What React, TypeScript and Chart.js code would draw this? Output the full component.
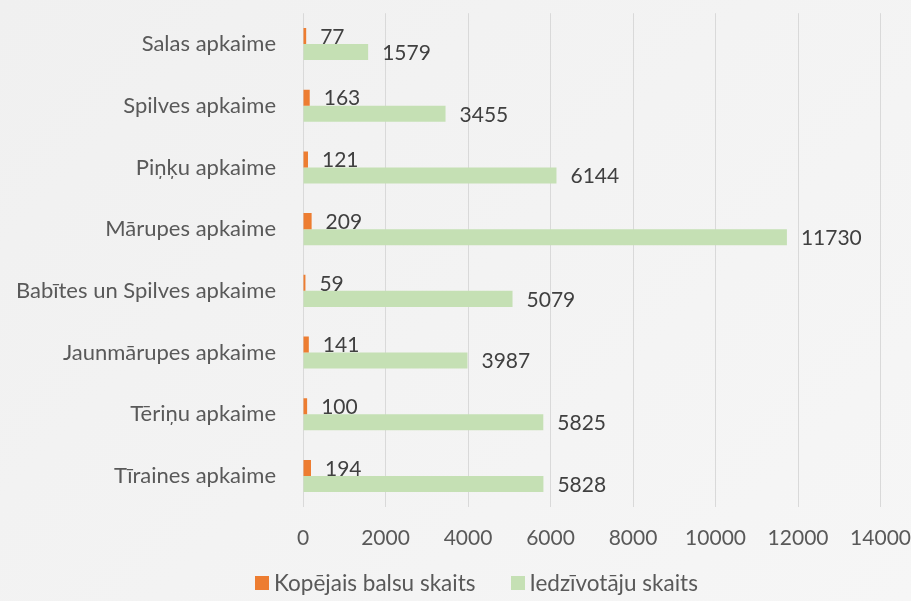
import React, { useEffect, useRef } from "react";
import { Chart, registerables } from "chart.js";
Chart.register(...registerables);

const categories = [
  "Salas apkaime",
  "Spilves apkaime",
  "Piņķu apkaime",
  "Mārupes apkaime",
  "Babītes un Spilves apkaime",
  "Jaunmārupes apkaime",
  "Tēriņu apkaime",
  "Tīraines apkaime",
];
const votes = [77, 163, 121, 209, 59, 141, 100, 194];
const residents = [1579, 3455, 6144, 11730, 5079, 3987, 5825, 5828];
const seriesNames = ["Kopējais balsu skaits", "Iedzīvotāju skaits"];
const seriesColors = ["#ED7D31", "#C5E0B4"];

const FONT = "Lato, 'Open Sans', sans-serif";

const labelPlugin = {
  id: "barLabels",
  afterDatasetsDraw(chart: any) {
    const ctx = chart.ctx;
    ctx.save();
    ctx.font = `21px ${FONT}`;
    ctx.fillStyle = "#404040";
    ctx.textAlign = "left";
    ctx.textBaseline = "middle";
    chart.data.datasets.forEach((ds: any, di: number) => {
      const meta = chart.getDatasetMeta(di);
      meta.data.forEach((el: any, i: number) => {
        ctx.fillText(String(ds.data[i]), el.x + 14, el.y + 1);
      });
    });
    ctx.restore();
  },
};

export default function App() {
  const ref = useRef<HTMLCanvasElement>(null);
  useEffect(() => {
    const chart = new Chart(ref.current!, {
      type: "bar",
      data: {
        labels: categories,
        datasets: [
          {
            label: seriesNames[0],
            data: votes,
            backgroundColor: seriesColors[0],
            categoryPercentage: 0.52,
            barPercentage: 1,
          },
          {
            label: seriesNames[1],
            data: residents,
            backgroundColor: seriesColors[1],
            categoryPercentage: 0.52,
            barPercentage: 1,
          },
        ],
      },
      options: {
        indexAxis: "y",
        animation: false,
        responsive: false,
        layout: { padding: { top: 11, right: 0, bottom: 50, left: 0 } },
        plugins: {
          legend: { display: false },
          tooltip: { enabled: false },
        },
        scales: {
          x: {
            min: 0,
            max: 14000,
            ticks: {
              stepSize: 2000,
              color: "#595959",
              font: { family: FONT, size: 21 },
              padding: 0,
              callback: (v: any) => String(v),
            },
            grid: {
              color: "#d9d9d9",
              drawTicks: true,
              tickLength: 19,
              tickColor: "rgba(0,0,0,0)",
            },
            border: { display: false },
          },
          y: {
            ticks: {
              color: "#595959",
              font: { family: FONT, size: 22 },
              padding: 0,
            },
            grid: {
              display: true,
              drawOnChartArea: false,
              drawTicks: true,
              tickLength: 27,
              tickColor: "rgba(0,0,0,0)",
            },
            border: { display: false },
            afterFit(scale: any) {
              scale.width = 303;
            },
          },
        },
      },
      plugins: [labelPlugin],
    });
    return () => chart.destroy();
  }, []);
  return (
    <div
      style={{
        position: "fixed",
        left: 0,
        top: 0,
        width: 911,
        height: 601,
        background: "linear-gradient(135deg, #f0f0f0 0%, #f6f6f6 100%)",
      }}
    >
      <canvas ref={ref} width={911} height={601} style={{ display: "block" }} />
      <div
        style={{
          position: "absolute",
          left: 255,
          top: 570,
          display: "flex",
          fontFamily: FONT,
          fontSize: 22.5,
          color: "#595959",
          lineHeight: "26px",
        }}
      >
        {seriesNames.map((n, i) => (
          <div
            key={n}
            style={{ display: "flex", alignItems: "center", marginRight: i === 0 ? 35 : 0 }}
          >
            <span
              style={{
                display: "inline-block",
                width: 14,
                height: 14,
                background: seriesColors[i],
                marginRight: 5,
              }}
            />
            <span>{n}</span>
          </div>
        ))}
      </div>
    </div>
  );
}
